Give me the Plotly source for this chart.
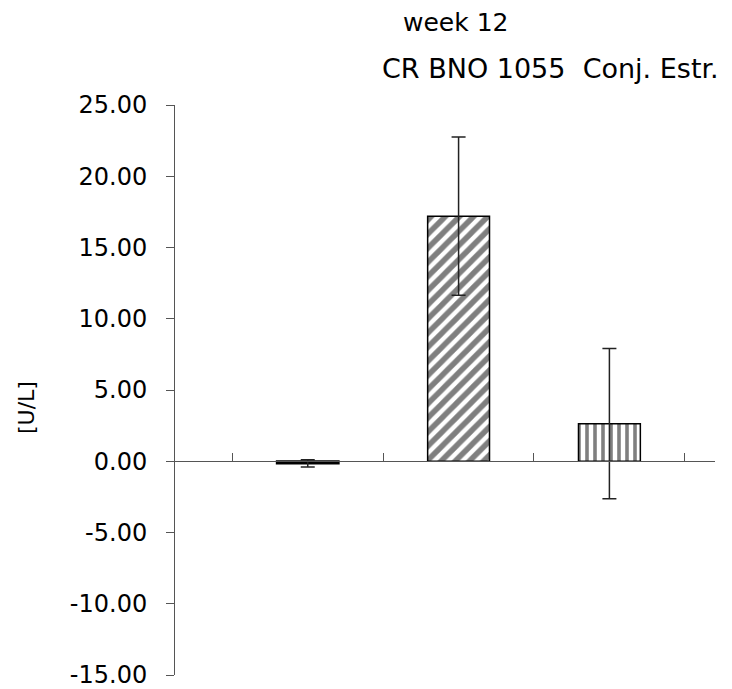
import plotly.graph_objects as go

categories = ["Placebo", "CR BNO 1055", "Conj. Estr."]
x_pos = [1, 2, 3]
values = [-0.15, 17.2, 2.64]
errors = [0.25, 5.55, 5.28]
patterns = ["", "/", "|"]
pattern_sizes = [8, 10, 8]
pattern_solidity = [0.5, 0.55, 0.45]
fills = ["black", "white", "white"]
y_ticks = [25, 20, 15, 10, 5, 0, -5, -10, -15]
y_tick_labels = ["25.00", "20.00", "15.00", "10.00", "5.00", "0.00", "-5.00", "-10.00", "-15.00"]
x_ticks = [0.5, 1.5, 2.5, 3.5]

fig = go.Figure()
for i in range(len(categories)):
    fig.add_trace(go.Bar(
        x=[x_pos[i]], y=[values[i]], name=categories[i], width=0.41,
        marker=dict(color=fills[i], line=dict(color="black", width=2 if i == 0 else 1.5),
                    pattern=dict(shape=patterns[i], fgcolor="black", bgcolor="white",
                                 size=pattern_sizes[i], solidity=pattern_solidity[i])),
        error_y=dict(type="data", array=[errors[i]], visible=True,
                     color="#222", thickness=1.5, width=7),
        showlegend=False,
    ))

axis_color = "#555"
# the page body adds an 8px offset; compensate so the plot lands where the reference has it
OFF = 8
FW, FH = 732 - OFF, 689 - OFF
L, R, T, B = 175 - OFF, 17, 105 - OFF, 14
W = FW - L - R
H = FH - T - B


def px_to_paper(px, py):
    return (px - OFF - L) / W, (FH - B - (py - OFF)) / H


ax0, ay0 = px_to_paper(455, 22)
ax1, ay1 = px_to_paper(550, 68)
ax2, ay2 = px_to_paper(26, 408)
font_family = "DejaVu Sans, Arial, sans-serif"

fig.update_layout(
    width=FW, height=FH,
    margin=dict(l=L, r=R, t=T, b=B, autoexpand=False),
    plot_bgcolor="white", paper_bgcolor="white",
    font=dict(family=font_family, color="#000", size=24),
    xaxis=dict(range=[0.12, 3.70], anchor="free", position=0.375, automargin=False,
               showline=True, linecolor=axis_color, linewidth=1,
               tickmode="array", tickvals=x_ticks, ticks="inside", ticklen=8,
               tickcolor=axis_color, showticklabels=False, showgrid=False, zeroline=False),
    yaxis=dict(range=[-15, 25], tickmode="array", tickvals=y_ticks, ticktext=y_tick_labels,
               automargin=False,
               ticks="outside", ticklen=8, tickcolor=axis_color, showline=True,
               linecolor=axis_color, linewidth=1, showgrid=False, zeroline=False,
               tickfont=dict(size=24), ticklabelstandoff=14, ticklabeloverflow="allow"),
    annotations=[
        dict(text="week 12", x=ax0, y=ay0, xref="paper", yref="paper", showarrow=False,
             xanchor="center", yanchor="middle", font=dict(size=25)),
        dict(text="CR BNO 1055&nbsp;&nbsp;Conj. Estr.", x=ax1, y=ay1, xref="paper", yref="paper",
             showarrow=False, xanchor="center", yanchor="middle", font=dict(size=27)),
        dict(text="[U/L]", x=ax2, y=ay2, xref="paper", yref="paper", showarrow=False,
             xanchor="center", yanchor="middle", textangle=-90, font=dict(size=22)),
    ],
)
fig.write_html("out.html")
